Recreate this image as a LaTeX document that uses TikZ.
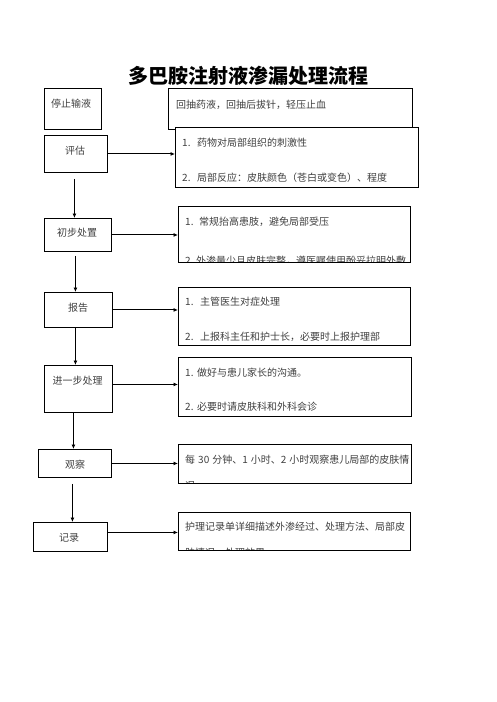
\documentclass[tikz,border=0pt]{standalone}
\usepackage{fontspec}
\setmainfont{Noto Sans CJK SC}
\usetikzlibrary{arrows.meta}
\begin{document}
\begin{tikzpicture}[x=1pt,y=-1pt,
  box/.style={draw=black, line width=0.9pt, fill=white, inner sep=0pt},
  arr/.style={line width=1pt, -{Latex[length=4.5pt,width=4pt]}},
  lbl/.style={inner sep=0pt, font=\fontsize{10}{12}\selectfont, text=black!75},
  itm/.style={lbl, anchor=west}]
\useasboundingbox (0,0) rectangle (496,702);
\fill[white] (0,0) rectangle (496,702);

\node[inner sep=0pt, font=\fontsize{20}{24}\selectfont\bfseries] (title) at (248,75.5) {多巴胺注射液渗漏处理流程};

% left boxes
\node[box, anchor=north west, minimum width=57pt, minimum height=41pt] (stop) at (44,88) {};
\node[box, anchor=north west, minimum width=63pt, minimum height=37pt] (pinggu) at (44,135) {};
\node[box, anchor=north west, minimum width=67pt, minimum height=33pt] (chubu) at (44,218) {};
\node[box, anchor=north west, minimum width=68pt, minimum height=35pt] (baogao) at (44,292) {};
\node[box, anchor=north west, minimum width=68pt, minimum height=47pt] (jinyibu) at (44,365) {};
\node[box, anchor=north west, minimum width=73pt, minimum height=28pt] (guancha) at (38,449) {};
\node[box, anchor=north west, minimum width=74pt, minimum height=29pt] (jilu) at (33,522) {};

\node[lbl] (tstop) at (71,104) {停止输液};
\node[lbl] (tpinggu) at (75,151) {评估};
\node[lbl] (tchubu) at (77,233) {初步处置};
\node[lbl] (tbaogao) at (78,308) {报告};
\node[lbl] (tjinyibu) at (77.5,381) {进一步处理};
\node[lbl] (tguancha) at (75,465) {观察};
\node[lbl] (tjilu) at (69,538) {记录};

% right boxes
\node[box, anchor=north west, minimum width=244pt, minimum height=41pt] (r1) at (168,88) {};
\node[itm] (r1a) at (176,105) {回抽药液，回抽后拔针，轻压止血};

\node[box, anchor=north west, minimum width=243pt, minimum height=60pt] (r2) at (175,127) {};
\node[itm] (r2n1) at (182,143) {1.};
\node[itm] (r2a) at (197,143) {药物对局部组织的刺激性};
\node[itm] (r2n2) at (182,178) {2.};
\node[itm] (r2b) at (197,178) {局部反应：皮肤颜色（苍白或变色）、程度};

\node[box, anchor=north west, minimum width=232pt, minimum height=56pt] (r3) at (178,206) {};
\node[itm] (r3n1) at (185,222) {1.};
\node[itm] (r3a) at (199,222) {常规抬高患肢，避免局部受压};
\begin{scope}
\clip (r3.north west) rectangle (r3.south east);
\node[itm] (r3n2) at (185,261) {2};
\node[itm] (r3b) at (196,261) {外渗量少且皮肤完整，遵医嘱使用酚妥拉明外敷};
\end{scope}
\draw[line width=0.9pt] (r3.north west) rectangle (r3.south east);

\node[box, anchor=north west, minimum width=232pt, minimum height=58pt] (r4) at (178,287) {};
\node[itm] (r4n1) at (185,302) {1.};
\node[itm] (r4a) at (200,302) {主管医生对症处理};
\node[itm] (r4n2) at (185,337) {2.};
\node[itm] (r4b) at (200,337) {上报科主任和护士长，必要时上报护理部};

\node[box, anchor=north west, minimum width=233pt, minimum height=59pt] (r5) at (178,357) {};
\node[itm] (r5n1) at (185,373) {1.};
\node[itm] (r5a) at (197,373) {做好与患儿家长的沟通。};
\node[itm] (r5n2) at (185,407) {2.};
\node[itm] (r5b) at (197,407) {必要时请皮肤科和外科会诊};

\node[box, anchor=north west, minimum width=233pt, minimum height=39pt] (r6) at (178,444) {};
\node[itm] (r6a) at (185,460) {每\hspace{3pt}30\hspace{3pt}分钟、1\hspace{3pt}小时、2\hspace{3pt}小时观察患儿局部的皮肤情};
\begin{scope}
\clip (r6.north west) rectangle (r6.south east);
\node[itm] (r6b) at (185,485.5) {况};
\end{scope}
\draw[line width=0.9pt] (r6.north west) rectangle (r6.south east);

\node[box, anchor=north west, minimum width=232pt, minimum height=38pt] (r7) at (178,512) {};
\node[itm] (r7a) at (185,527) {护理记录单详细描述外渗经过、处理方法、局部皮};
\begin{scope}
\clip (r7.north west) rectangle (r7.south east);
\node[itm] (r7b) at (185,552.5) {肤情况、处理效果};
\end{scope}
\draw[line width=0.9pt] (r7.north west) rectangle (r7.south east);

% horizontal arrows
\draw[arr] (pinggu.east) -- (pinggu.east -| r2.west);
\draw[arr] (chubu.east) -- (chubu.east -| r3.west);
\draw[arr] (baogao.east) -- (baogao.east -| r4.west);
\draw[arr] ([yshift=4.5pt]jinyibu.east) -- ([yshift=4.5pt]jinyibu.east -| r5.west);
\draw[arr] (guancha.east) -- (guancha.east -| r6.west);
\draw[arr] ([yshift=4.5pt]jilu.east) -- ([yshift=4.5pt]jilu.east -| r7.west);

% vertical arrows
\draw[arr, shorten <=6pt] ([xshift=-1.5pt]pinggu.south) -- ([xshift=-1.5pt]pinggu.south |- chubu.north);
\draw[arr, shorten <=4pt] ([xshift=-2.5pt]chubu.south) -- ([xshift=-2.5pt]chubu.south |- baogao.north);
\draw[arr] ([xshift=-3pt]baogao.south) -- ([xshift=-3pt]baogao.south |- jinyibu.north);
\draw[arr] ([xshift=-5pt]jinyibu.south) -- ([xshift=-5pt]jinyibu.south |- guancha.north);
\draw[arr, shorten <=6pt] ([xshift=-2.5pt]guancha.south) -- ([xshift=-2.5pt]guancha.south |- jilu.north);
\end{tikzpicture}
\end{document}
